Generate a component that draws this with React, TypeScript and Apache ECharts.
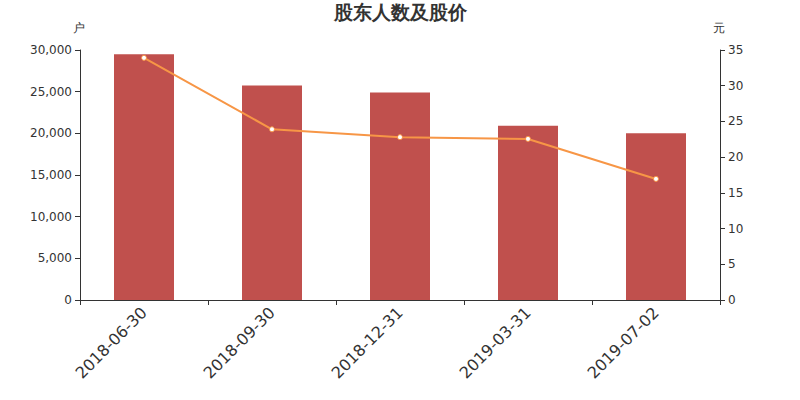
import React, { useEffect, useRef } from "react";
import * as echarts from "echarts";

const categories = ["2018-06-30", "2018-09-30", "2018-12-31", "2019-03-31", "2019-07-02"];
const holders = [29500, 25750, 24900, 20900, 20000];
const prices = [33.9, 23.9, 22.8, 22.55, 16.95];

export default function App() {
  const ref = useRef<HTMLDivElement>(null);
  useEffect(() => {
    const chart = echarts.init(ref.current!, null, { renderer: "svg" });
    const axisLine = { show: true, lineStyle: { color: "#333" } };
    const font = "DejaVu Sans";
    chart.setOption({
      animation: false,
      textStyle: { fontFamily: font },
      title: {
        text: "股东人数及股价",
        left: "center",
        top: 0,
        padding: [2, 5, 5, 5],
        textStyle: { fontSize: 19, fontWeight: "bold", color: "#333", fontFamily: font },
      },
      grid: { left: 80, right: 80, top: 50, bottom: 100 },
      xAxis: {
        type: "category",
        data: categories,
        axisLine,
        axisTick: { show: true },
        axisLabel: { rotate: 45, fontSize: 16, color: "#333", margin: 10, fontFamily: font },
      },
      yAxis: [
        {
          type: "value",
          name: "户",
          nameGap: 16,
          nameTextStyle: { color: "#333", fontSize: 12, align: "center", padding: [0, 3, 0, 0], fontFamily: font },
          min: 0,
          max: 30000,
          interval: 5000,
          axisLine,
          axisTick: { show: true },
          splitLine: { show: false },
          axisLabel: { color: "#333", fontSize: 12, fontFamily: font, formatter: (v: number) => v.toLocaleString("en-US") },
        },
        {
          type: "value",
          name: "元",
          nameGap: 16,
          nameTextStyle: { color: "#333", fontSize: 12, align: "center", padding: [0, 3, 0, 0], fontFamily: font },
          min: 0,
          max: 35,
          interval: 5,
          axisLine,
          axisTick: { show: true },
          splitLine: { show: false },
          axisLabel: { color: "#333", fontSize: 12, fontFamily: font },
        },
      ],
      series: [
        {
          type: "bar",
          data: holders,
          barWidth: 60,
          itemStyle: { color: "#c0504d" },
        },
        {
          type: "line",
          yAxisIndex: 1,
          data: prices,
          symbol: "circle",
          symbolSize: 5,
          lineStyle: { color: "#f79646", width: 2 },
          itemStyle: { color: "#fff", borderColor: "#f79646", borderWidth: 1 },
        },
      ],
    });
    return () => chart.dispose();
  }, []);
  return <div ref={ref} style={{ position: "absolute", left: 0, top: 0, width: 800, height: 400 }} />;
}
